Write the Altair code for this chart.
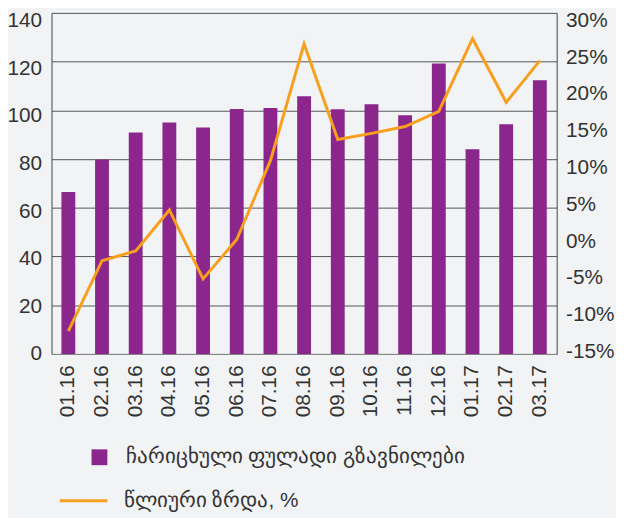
import altair as alt
import pandas as pd

months = ["01.16", "02.16", "03.16", "04.16", "05.16", "06.16", "07.16", "08.16",
          "09.16", "10.16", "11.16", "12.16", "01.17", "02.17", "03.17"]
transfers = [66.5, 79.8, 90.9, 95.0, 93.0, 100.5, 101.0, 105.8,
             100.4, 102.5, 98.0, 119.2, 84.0, 94.3, 112.3]
growth = [-12.0, -2.7, -1.4, 4.0, -5.1, 0.1, 10.5, 25.9,
          13.3, 14.1, 15.0, 17.0, 26.6, 18.2, 23.7]
left_ticks = [0, 20, 40, 60, 80, 100, 120, 140]
right_ticks = [-15, -10, -5, 0, 5, 10, 15, 20, 25, 30]
bar_label = "ჩარიცხული ფულადი გზავნილები"
line_label = "წლიური ზრდა, %"

df = pd.DataFrame({
    "month": months,
    "transfers": transfers,
    "growth": growth,
    "bar_s": [bar_label] * len(months),
    "line_s": [line_label] * len(months),
})

x = alt.X("month:N", sort=months, title=None,
          scale=alt.Scale(paddingInner=0, paddingOuter=0),
          axis=alt.Axis(labelAngle=-90, labelPadding=11, tickSize=0,
                        domainColor="#888888"))

bars = alt.Chart(df).mark_bar(size=14, color="#8b278c").encode(
    x=x,
    y=alt.Y("transfers:Q", title=None,
            scale=alt.Scale(domain=[0, 140], nice=False),
            axis=alt.Axis(values=left_ticks, grid=True,
                          gridColor="#555555", tickSize=0, labelPadding=10,
                          domainColor="#444444",
                          labelOffset=alt.ExprRef(expr="datum.value * 0.057"))),
    fill=alt.Fill("bar_s:N", title=None,
                  scale=alt.Scale(range=["#8b278c"]),
                  legend=alt.Legend(orient="none", legendX=38, legendY=439,
                                    padding=0,
                                    symbolType="square", symbolSize=256,
                                    labelOffset=16, labelFontSize=21,
                                    labelLimit=500)),
)

line = alt.Chart(df).mark_line(strokeWidth=3).encode(
    x=x,
    y=alt.Y("growth:Q", title=None,
            scale=alt.Scale(domain=[-15, 30], nice=False),
            axis=alt.Axis(orient="right", values=right_ticks, grid=False,
                          tickSize=0, labelPadding=9, domainColor="#444444",
                          labelExpr="datum.value + '%'",
                          labelOffset=alt.ExprRef(expr="-2.5 + (datum.value + 15) * 0.227"))),
    stroke=alt.Stroke("line_s:N", title=None,
                      scale=alt.Scale(range=["#f7a01e"]),
                      legend=alt.Legend(orient="none", legendX=7, legendY=468,
                                        padding=0,
                                        symbolType="stroke", symbolSize=2304,
                                        symbolStrokeWidth=3,
                                        labelOffset=15, labelFontSize=21,
                                        labelLimit=500)),
)

chart = alt.layer(bars, line).resolve_scale(y="independent").properties(
    width=511, height=345,
    autosize=alt.AutoSizeParams(type="none"),
    padding={"left": 44, "top": 2, "right": 60, "bottom": 163},
    background="#f2f3f5",
).configure_view(stroke=None).configure_axis(
    labelFont="Liberation Sans", labelFontSize=21, labelColor="#333333",
).configure_legend(
    labelFont="Liberation Sans", labelColor="#333333",
)

chart.save("out.html", embed_options={"renderer": "svg", "actions": False})
